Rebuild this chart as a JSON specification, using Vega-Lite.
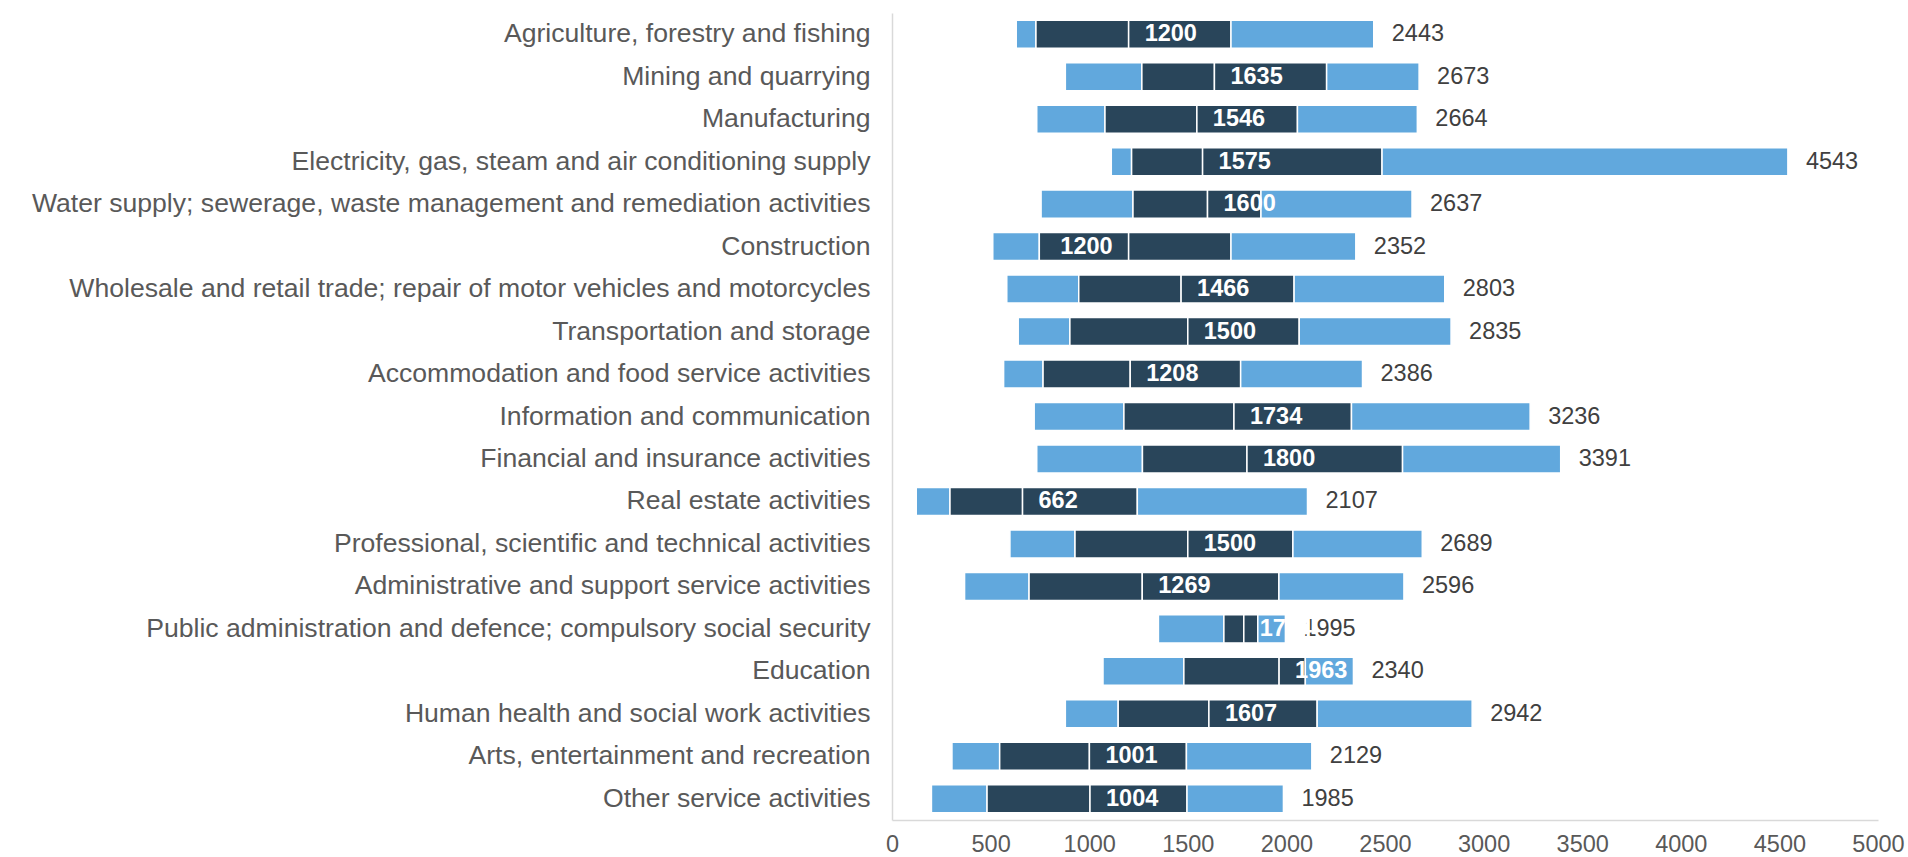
{
  "$schema": "https://vega.github.io/schema/vega-lite/v6.json",
  "width": 986,
  "height": 807,
  "autosize": {"type": "none"},
  "padding": {"left": 892, "top": 13, "right": 30, "bottom": 37},
  "background": "white",
  "config": {"view": {"stroke": null}, "font": "Liberation Sans"},
  "data": {
    "values": [
      {"sector": "Agriculture, forestry and fishing", "p10": 630, "p25": 730, "median": 1200, "p75": 1719, "p90": 2443},
      {"sector": "Mining and quarrying", "p10": 879, "p25": 1267, "median": 1635, "p75": 2204, "p90": 2673},
      {"sector": "Manufacturing", "p10": 734, "p25": 1080, "median": 1546, "p75": 2056, "p90": 2664},
      {"sector": "Electricity, gas, steam and air conditioning supply", "p10": 1112, "p25": 1215, "median": 1575, "p75": 2485, "p90": 4543},
      {"sector": "Water supply; sewerage, waste management and remediation activities", "p10": 756, "p25": 1222, "median": 1600, "p75": 1871, "p90": 2637},
      {"sector": "Construction", "p10": 511, "p25": 747, "median": 1200, "p75": 1719, "p90": 2352},
      {"sector": "Wholesale and retail trade; repair of motor vehicles and motorcycles", "p10": 582, "p25": 947, "median": 1466, "p75": 2039, "p90": 2803},
      {"sector": "Transportation and storage", "p10": 640, "p25": 902, "median": 1500, "p75": 2065, "p90": 2835},
      {"sector": "Accommodation and food service activities", "p10": 566, "p25": 766, "median": 1208, "p75": 1768, "p90": 2386},
      {"sector": "Information and communication", "p10": 721, "p25": 1176, "median": 1734, "p75": 2330, "p90": 3236},
      {"sector": "Financial and insurance activities", "p10": 734, "p25": 1270, "median": 1800, "p75": 2589, "p90": 3391},
      {"sector": "Real estate activities", "p10": 123, "p25": 294, "median": 662, "p75": 1244, "p90": 2107},
      {"sector": "Professional, scientific and technical activities", "p10": 598, "p25": 928, "median": 1500, "p75": 2033, "p90": 2689},
      {"sector": "Administrative and support service activities", "p10": 368, "p25": 695, "median": 1269, "p75": 1962, "p90": 2596},
      {"sector": "Public administration and defence; compulsory social security", "p10": 1351, "p25": 1683, "median": 1784, "p75": 1855, "p90": 1995},
      {"sector": "Education", "p10": 1070, "p25": 1480, "median": 1963, "p75": 2096, "p90": 2340},
      {"sector": "Human health and social work activities", "p10": 879, "p25": 1147, "median": 1607, "p75": 2156, "p90": 2942},
      {"sector": "Arts, entertainment and recreation", "p10": 304, "p25": 546, "median": 1001, "p75": 1493, "p90": 2129},
      {"sector": "Other service activities", "p10": 200, "p25": 482, "median": 1004, "p75": 1496, "p90": 1985}
    ]
  },
  "encoding": {
    "y": {
      "field": "sector",
      "type": "nominal",
      "sort": null,
      "scale": {"paddingInner": 0.34, "paddingOuter": 0.17},
      "axis": {
        "title": null,
        "labelFontSize": 26.6,
        "labelColor": "#595959",
        "labelPadding": 22,
        "ticks": false,
        "tickSize": 0,
        "domainColor": "#d9d9d9",
        "domainWidth": 1.5,
        "labelLimit": 1000
      }
    }
  },
  "layer": [
    {
      "mark": {"type": "bar", "color": "#61a8dd", "stroke": "white", "strokeWidth": 1.5},
      "encoding": {
        "x": {
          "field": "p10",
          "type": "quantitative",
          "scale": {"domain": [0, 5000], "nice": false, "zero": true},
          "axis": {
            "title": null,
            "values": [0, 500, 1000, 1500, 2000, 2500, 3000, 3500, 4000, 4500, 5000],
            "format": "d",
            "labelFontSize": 23.5,
            "labelColor": "#595959",
            "labelFlush": false,
            "labelOverlap": false,
            "ticks": false,
            "tickSize": 0,
            "labelPadding": 12,
            "grid": false,
            "domainColor": "#d9d9d9",
            "domainWidth": 1.5
          }
        },
        "x2": {"field": "p25"}
      }
    },
    {
      "mark": {"type": "bar", "color": "#29455a", "stroke": "white", "strokeWidth": 1.5},
      "encoding": {"x": {"field": "p25", "type": "quantitative"}, "x2": {"field": "median"}}
    },
    {
      "mark": {"type": "bar", "color": "#29455a", "stroke": "white", "strokeWidth": 1.5},
      "encoding": {"x": {"field": "median", "type": "quantitative"}, "x2": {"field": "p75"}}
    },
    {
      "mark": {"type": "bar", "color": "#61a8dd", "stroke": "white", "strokeWidth": 1.5},
      "encoding": {"x": {"field": "p75", "type": "quantitative"}, "x2": {"field": "p90"}}
    },
    {
      "mark": {"type": "text", "align": "left", "baseline": "middle", "dx": 18, "fontSize": 23.5, "color": "#404040"},
      "encoding": {"x": {"field": "p90", "type": "quantitative"}, "text": {"field": "p90", "type": "quantitative", "format": "d"}}
    },
    {
      "transform": [{"filter": "datum.sector !== 'Construction'"}],
      "mark": {"type": "text", "align": "left", "baseline": "middle", "dx": 16, "fontSize": 23.5, "fontWeight": "bold", "color": "white"},
      "encoding": {"x": {"field": "median", "type": "quantitative"}, "text": {"field": "median", "type": "quantitative", "format": "d"}}
    },
    {
      "transform": [{"filter": "datum.sector === 'Construction'"}],
      "mark": {"type": "text", "align": "right", "baseline": "middle", "dx": -16, "fontSize": 23.5, "fontWeight": "bold", "color": "white"},
      "encoding": {"x": {"field": "median", "type": "quantitative"}, "text": {"field": "median", "type": "quantitative", "format": "d"}}
    }
  ]
}
